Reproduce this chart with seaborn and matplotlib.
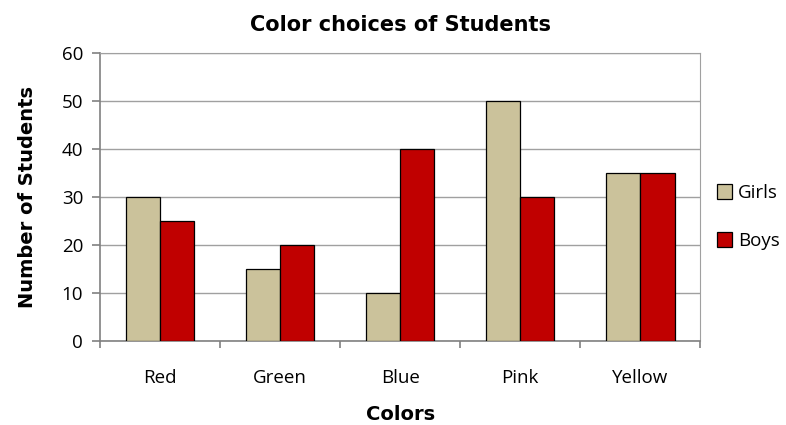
import matplotlib
matplotlib.use("Agg")
import matplotlib.pyplot as plt
from matplotlib.ticker import FixedLocator
import seaborn as sns
import pandas as pd

categories = ["Red", "Green", "Blue", "Pink", "Yellow"]
girls = [30, 15, 10, 50, 35]
boys = [25, 20, 40, 30, 35]
series_names = ["Girls", "Boys"]
yticks = [0, 10, 20, 30, 40, 50, 60]

df = pd.DataFrame({
    "Colors": categories * 2,
    "Number of Students": girls + boys,
    "Group": [series_names[0]] * len(categories) + [series_names[1]] * len(categories),
})

sns.set_style("white")
plt.rcParams["font.family"] = ["DejaVu Sans"]
plt.rcParams["text.color"] = "black"

fig = plt.figure(figsize=(7.86, 4.25), dpi=100)
ax = fig.add_axes([0.127, 0.198, 0.764, 0.677])

palette = {"Girls": "#CBC29B", "Boys": "#C00000"}
sns.barplot(data=df, x="Colors", y="Number of Students", hue="Group",
            palette=palette, width=0.57, edgecolor="black", linewidth=0.9,
            ax=ax, zorder=3, saturation=1)

ax.set_xlim(-0.5, len(categories) - 0.5)
ax.set_ylim(0, 60)
ax.set_yticks(yticks)
ax.yaxis.grid(True, color="#A0A0A0", linewidth=1, zorder=0)
ax.set_axisbelow(True)
for s in ["top", "right"]:
    ax.spines[s].set_color("#A0A0A0")
for s in ["left", "bottom"]:
    ax.spines[s].set_color("#808080")
    ax.spines[s].set_linewidth(1.2)

ax.xaxis.set_minor_locator(FixedLocator([i - 0.5 for i in range(len(categories) + 1)]))
ax.tick_params(axis="y", left=True, length=6, width=1.2, color="#808080", direction="out",
               labelsize=13.5, pad=6, labelcolor="black")
ax.tick_params(axis="x", which="major", bottom=True, length=0, labelsize=13.5, pad=20,
               labelcolor="black")
ax.tick_params(axis="x", which="minor", bottom=True, length=5, width=1.2, color="#808080",
               direction="out")
for lbl in ax.get_xticklabels() + ax.get_yticklabels():
    lbl.set_family("Open Sans")

ax.set_xlabel("Colors", fontsize=14, fontweight="bold", labelpad=13, color="black")
ax.set_ylabel("Number of Students", fontsize=14, fontweight="bold", labelpad=18, color="black")
ax.set_title("Color choices of Students", fontsize=15, fontweight="bold", pad=16, color="black")

handles, labels = ax.get_legend_handles_labels()
leg = ax.legend(handles, labels, loc="center left", bbox_to_anchor=(1.0, 0.43),
                frameon=False, handlelength=0.8, handleheight=0.8,
                handletextpad=0.3, labelspacing=1.6, prop={"family": "Open Sans", "size": 13.5})
for t in leg.get_texts():
    t.set_color("black")

fig.savefig("out.png", dpi=100)
